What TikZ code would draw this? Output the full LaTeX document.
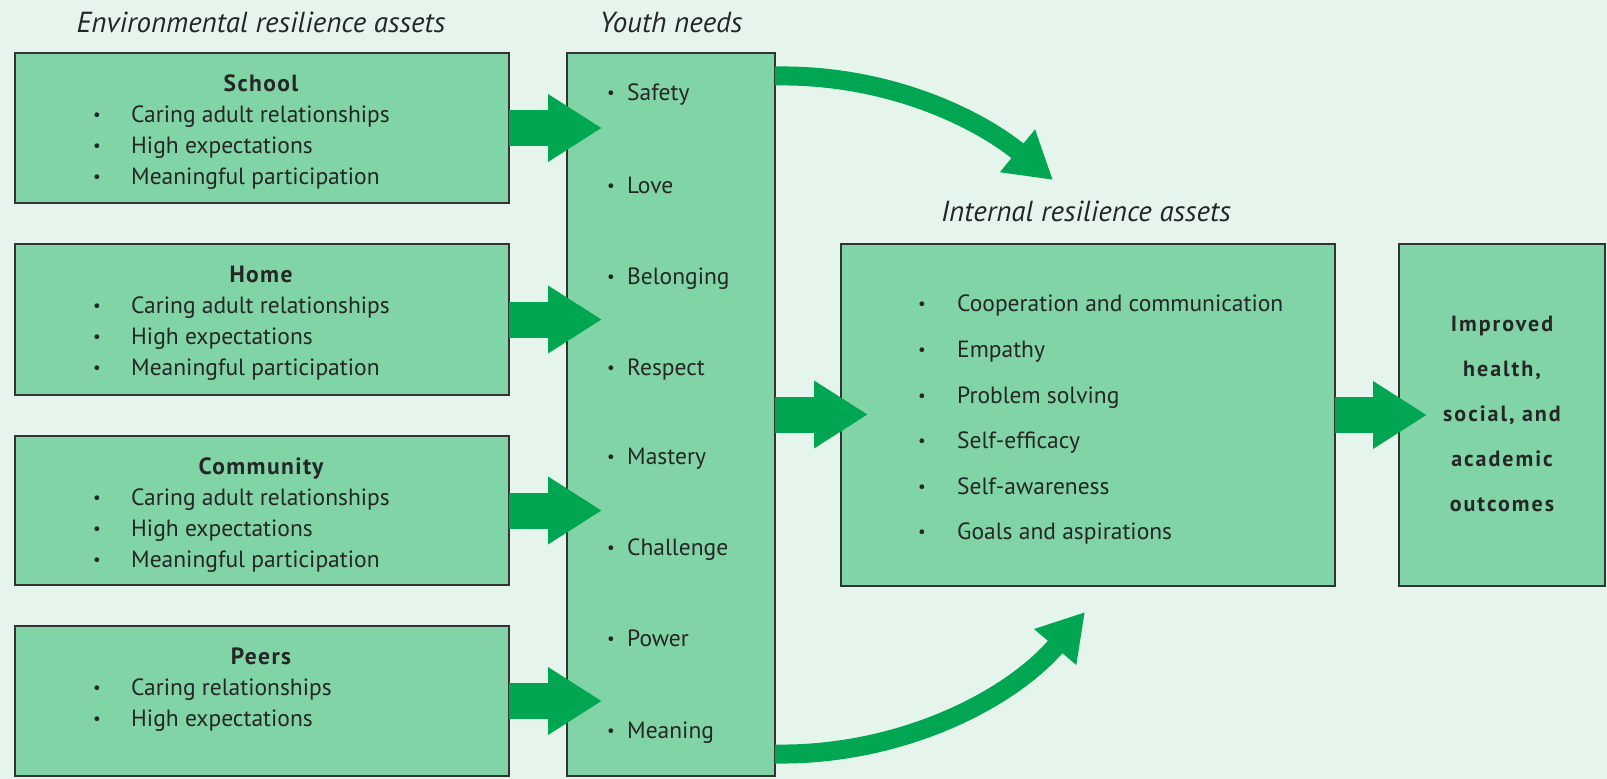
\documentclass[tikz,border=0pt]{standalone}
\usepackage{fontspec}
\setmainfont{PT Sans}
\usetikzlibrary{arrows.meta,calc}
\definecolor{bgcol}{HTML}{E6F5EC}
\definecolor{boxfill}{HTML}{80D4A6}
\definecolor{arrowgreen}{HTML}{00A651}
\definecolor{edgecol}{HTML}{333333}
\definecolor{textcol}{HTML}{262626}
\newcommand\itemfont{\fontsize{23.5}{28}\selectfont}
\newcommand\bulfont{\fontsize{17}{20}\selectfont}
\newcommand\headfont{\fontsize{23.5}{28}\selectfont\bfseries\addfontfeatures{LetterSpace=6}}
\newcommand\outfont{\fontsize{22}{26}\selectfont\bfseries\addfontfeatures{LetterSpace=9}}
\newcommand\titlefont{\fontsize{29}{33}\selectfont\itshape}
\begin{document}
\begin{tikzpicture}[x=1pt,y=-1pt,
  box/.style={draw=edgecol,line width=1.4pt,fill=boxfill,inner sep=0pt,outer sep=0pt,anchor=north west},
  itemtxt/.style={anchor=base west,inner sep=0pt,font=\itemfont,text=textcol},
  bul/.style={anchor=base,inner sep=0pt,font=\bulfont,text=textcol,yshift=2pt},
  head/.style={anchor=base,inner sep=0pt,font=\headfont,text=textcol},
  outtxt/.style={anchor=base,inner sep=0pt,font=\outfont,text=textcol},
  ttl/.style={anchor=base,inner sep=0pt,font=\titlefont,text=textcol},
  blockarr/.style={draw=arrowgreen,line width=36pt,-{Triangle[length=54pt,width=64pt]}},
  curvearr/.style={draw=arrowgreen,line width=19pt,-{Triangle[length=46pt,width=52pt]}}]
\fill[bgcol] (0,0) rectangle (1607,779);
\useasboundingbox (0,0) rectangle (1607,779);

% titles
\node[ttl] (t-env) at (261,32) {Environmental resilience assets};
\node[ttl] (t-youth) at (671,32) {Youth needs};
\node[ttl] (t-int) at (1086,221) {Internal resilience assets};

% left boxes
\node[box,minimum width=494pt,minimum height=150pt] (school) at (15,53) {};
\node[box,minimum width=494pt,minimum height=151pt] (home) at (15,244) {};
\node[box,minimum width=494pt,minimum height=149pt] (community) at (15,436) {};
\node[box,minimum width=494pt,minimum height=150pt] (peers) at (15,626) {};

% youth, internal, outcomes
\node[box,minimum width=208pt,minimum height=723pt] (youth) at (567,53) {};
\node[box,minimum width=494pt,minimum height=342pt] (internal) at (841,244) {};
\node[box,minimum width=206pt,minimum height=342pt] (outcomes) at (1399,244) {};

% school text
\node[head] (sch-h) at (261,91) {School};
\node[bul] (sch-b1) at (97,122) {•}; \node[itemtxt] (sch-i1) at (131,122) {Caring adult relationships};
\node[bul] (sch-b2) at (97,153) {•}; \node[itemtxt] (sch-i2) at (131,153) {High expectations};
\node[bul] (sch-b3) at (97,184) {•}; \node[itemtxt] (sch-i3) at (131,184) {Meaningful participation};
% home text
\node[head] (hom-h) at (261,282) {Home};
\node[bul] (hom-b1) at (97,313) {•}; \node[itemtxt] (hom-i1) at (131,313) {Caring adult relationships};
\node[bul] (hom-b2) at (97,344) {•}; \node[itemtxt] (hom-i2) at (131,344) {High expectations};
\node[bul] (hom-b3) at (97,375) {•}; \node[itemtxt] (hom-i3) at (131,375) {Meaningful participation};
% community text
\node[head] (com-h) at (261,474) {Community};
\node[bul] (com-b1) at (97,505) {•}; \node[itemtxt] (com-i1) at (131,505) {Caring adult relationships};
\node[bul] (com-b2) at (97,536) {•}; \node[itemtxt] (com-i2) at (131,536) {High expectations};
\node[bul] (com-b3) at (97,567) {•}; \node[itemtxt] (com-i3) at (131,567) {Meaningful participation};
% peers text
\node[head] (pee-h) at (261,664) {Peers};
\node[bul] (pee-b1) at (97,695) {•}; \node[itemtxt] (pee-i1) at (131,695) {Caring relationships};
\node[bul] (pee-b2) at (97,726) {•}; \node[itemtxt] (pee-i2) at (131,726) {High expectations};

% youth needs
\node[bul] (yn-b1) at (611,100) {•}; \node[itemtxt] (yn-1) at (627,100) {Safety};
\node[bul] (yn-b2) at (611,193) {•}; \node[itemtxt] (yn-2) at (627,193) {Love};
\node[bul] (yn-b3) at (611,284) {•}; \node[itemtxt] (yn-3) at (627,284) {Belonging};
\node[bul] (yn-b4) at (611,375) {•}; \node[itemtxt] (yn-4) at (627,375) {Respect};
\node[bul] (yn-b5) at (611,464) {•}; \node[itemtxt] (yn-5) at (627,464) {Mastery};
\node[bul] (yn-b6) at (611,555) {•}; \node[itemtxt] (yn-6) at (627,555) {Challenge};
\node[bul] (yn-b7) at (611,646) {•}; \node[itemtxt] (yn-7) at (627,646) {Power};
\node[bul] (yn-b8) at (611,738) {•}; \node[itemtxt] (yn-8) at (627,738) {Meaning};

% internal assets
\node[bul] (ia-b1) at (922,311) {•}; \node[itemtxt] (ia-1) at (957,311) {Cooperation and communication};
\node[bul] (ia-b2) at (922,357) {•}; \node[itemtxt] (ia-2) at (957,357) {Empathy};
\node[bul] (ia-b3) at (922,403) {•}; \node[itemtxt] (ia-3) at (957,403) {Problem solving};
\node[bul] (ia-b4) at (922,448) {•}; \node[itemtxt] (ia-4) at (957,448) {Self-efficacy};
\node[bul] (ia-b5) at (922,494) {•}; \node[itemtxt] (ia-5) at (957,494) {Self-awareness};
\node[bul] (ia-b6) at (922,539) {•}; \node[itemtxt] (ia-6) at (957,539) {Goals and aspirations};

% outcomes
\node[outtxt] (oc-1) at (1502,331) {Improved};
\node[outtxt] (oc-2) at (1502,376) {health,};
\node[outtxt] (oc-3) at (1502,421) {social, and};
\node[outtxt] (oc-4) at (1502,466) {academic};
\node[outtxt] (oc-5) at (1502,511) {outcomes};

% block arrows
\draw[blockarr] (school.east) -- ++(93,0);
\draw[blockarr] (home.east) -- ++(93,0);
\draw[blockarr] (community.east) -- ++(93,0);
\draw[blockarr] (peers.east) -- ++(93,0);
\draw[blockarr] (youth.east) -- ++(93,0);
\draw[blockarr] (internal.east) -- ++(92,0);

% curved arrows
\coordinate (topStart) at ($(youth.north east)+(0,23)$);
\coordinate (topTip) at (1053,180);
\coordinate (botStart) at ($(youth.south east)+(0,-22)$);
\coordinate (botTip) at (1085,612);
\draw[curvearr] (topStart) .. controls (890,74) and (980,120) .. (topTip);
\draw[curvearr] (botStart) .. controls (900,756) and (1010,700) .. (botTip);
\end{tikzpicture}
\end{document}
